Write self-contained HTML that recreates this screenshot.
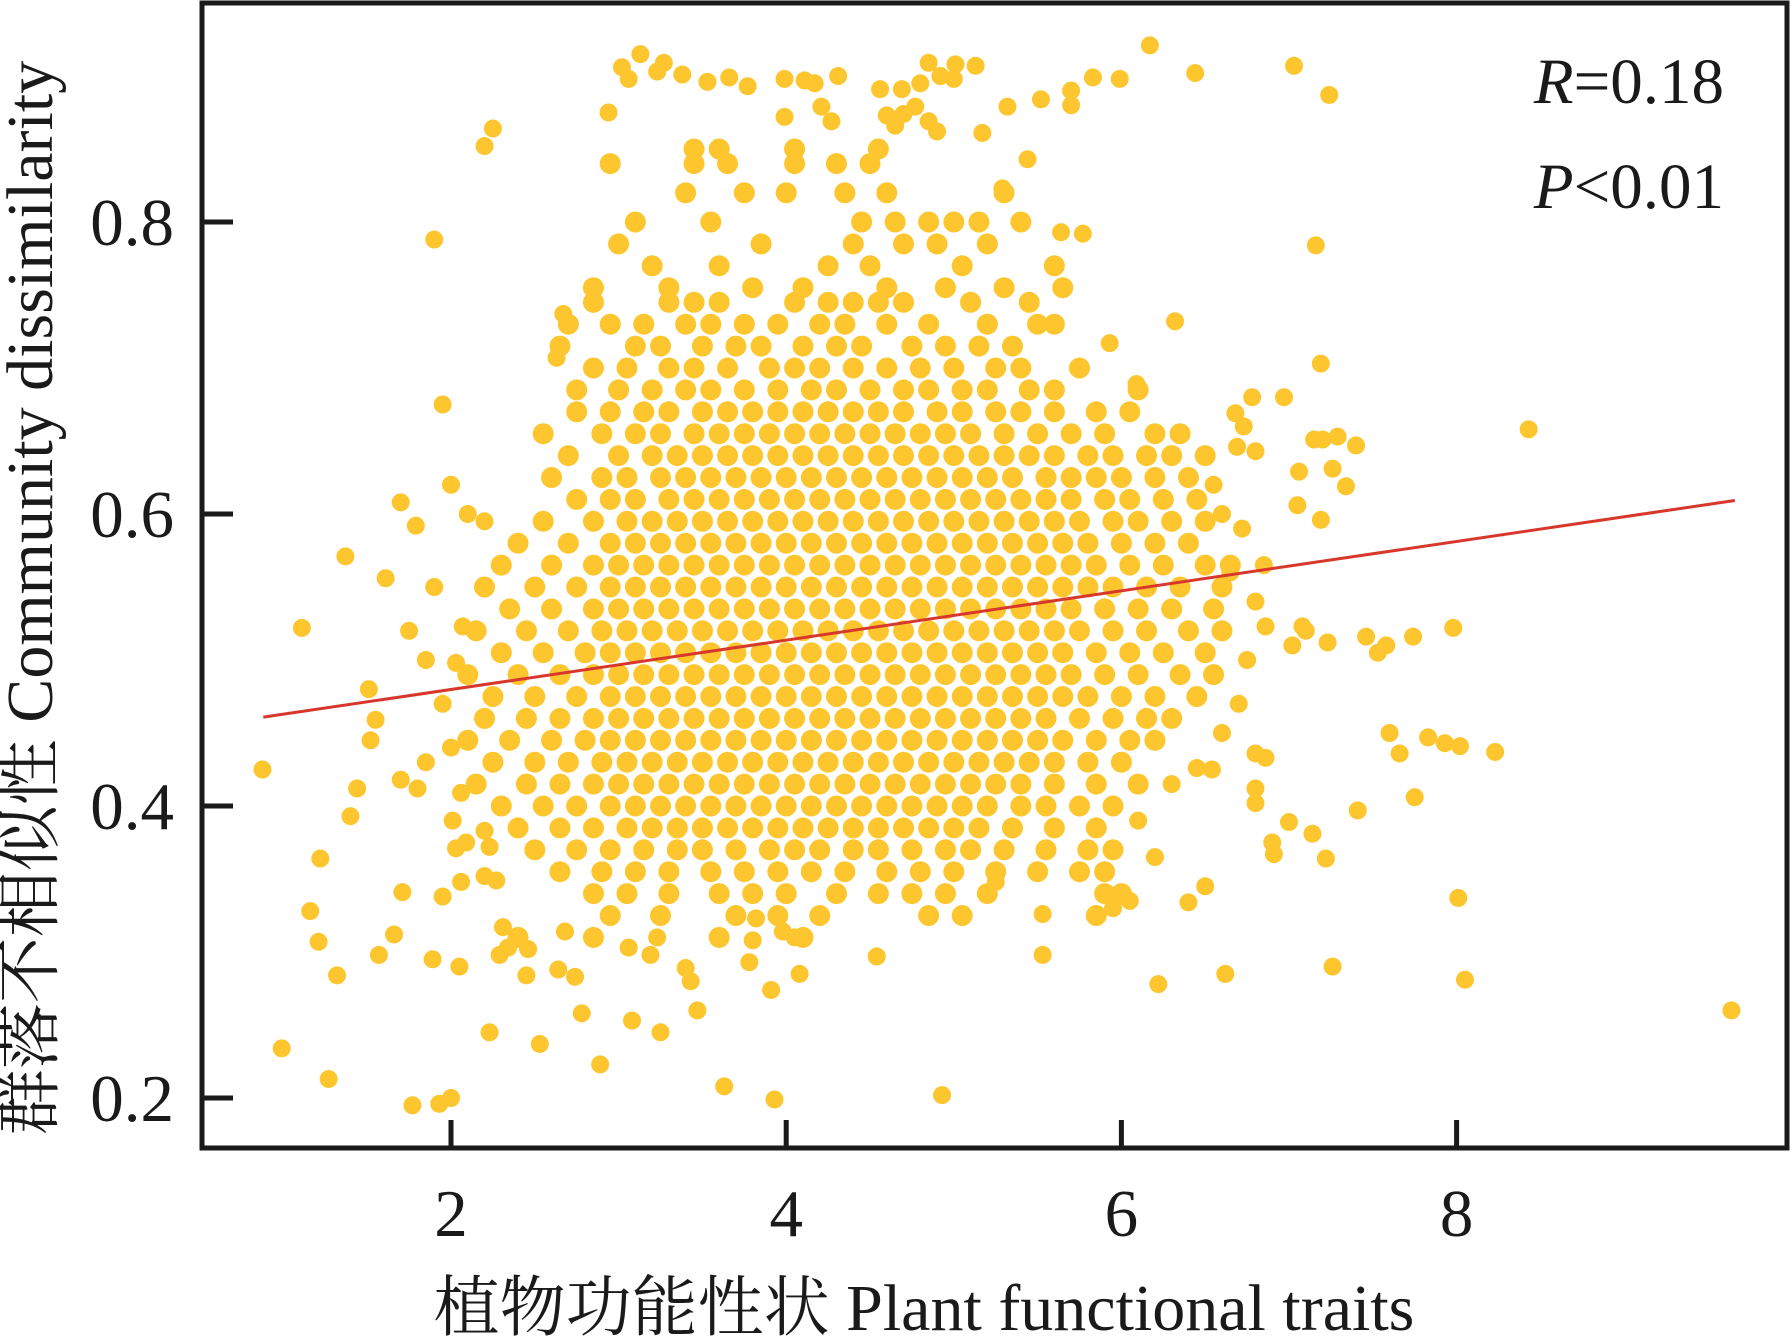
<!DOCTYPE html>
<html><head><meta charset="utf-8">
<style>
html,body{margin:0;padding:0;background:#fff;}
svg{display:block;}
text{font-family:"Liberation Serif","Noto Serif CJK SC","Noto Sans CJK SC",serif;fill:#1a1a1a;}
</style></head>
<body>
<svg id="chart" width="1792" height="1337" viewBox="0 0 1792 1337" xmlns="http://www.w3.org/2000/svg">
<g id="points"></g>
<line id="fit" stroke="#d8382c" stroke-width="3"/>
<rect x="202" y="3" width="1585" height="1145" fill="none" stroke="#1a1a1a" stroke-width="5"/>
<g id="axes"></g>
<text x="1724" y="103" font-size="65" text-anchor="end"><tspan font-style="italic">R</tspan>=0.18</text>
<text x="1724" y="208" font-size="65" text-anchor="end"><tspan font-style="italic">P</tspan>&lt;0.01</text>
<text x="924" y="1330" font-size="66" text-anchor="middle">植物功能性状 Plant functional traits</text>
<text transform="translate(52,598) rotate(-90)" font-size="66" text-anchor="middle">群落不相似性 Community dissimilarity</text>
</svg>
<script>
const xTicks=[2,4,6,8];
const yTicks=[0.2,0.4,0.6,0.8];
const yTickLabels=["0.2","0.4","0.6","0.8"];
const fitIntercept=0.446;
const fitSlope=0.0169;
const fitRange=[0.88,9.66];
const sparsePoints=[[0.875,0.425],[0.99,0.234],[1.11,0.522],[1.22,0.364],[1.27,0.213],[1.16,0.328],[1.21,0.307],[1.32,0.284],[1.37,0.571],[1.40,0.393],[1.44,0.412],[1.51,0.48],[1.52,0.445],[1.55,0.459],[1.61,0.556],[1.57,0.298],[1.66,0.312],[1.70,0.608],[1.70,0.418],[1.71,0.341],[1.77,0.195],[1.79,0.592],[1.80,0.412],[1.89,0.295],[1.90,0.788],[1.93,0.196],[1.95,0.675],[2.0,0.2],[1.95,0.338],[2.01,0.39],[2.03,0.371],[2.06,0.409],[2.07,0.523],[2.03,0.498],[2.05,0.29],[2.20,0.852],[2.25,0.864],[2.23,0.245],[2.20,0.595],[2.29,0.298],[2.53,0.237],[2.63,0.707],[2.67,0.737],[2.78,0.258],[2.89,0.223],[2.94,0.875],[3.02,0.906],[3.13,0.915],[3.06,0.898],[3.27,0.909],[3.38,0.901],[3.53,0.896],[3.66,0.899],[3.77,0.893],[3.23,0.903],[3.08,0.253],[3.25,0.245],[3.63,0.208],[3.93,0.199],[3.99,0.898],[4.11,0.897],[4.17,0.895],[4.31,0.9],[4.21,0.879],[4.27,0.869],[3.99,0.872],[4.56,0.891],[4.69,0.891],[4.80,0.895],[4.92,0.9],[5.01,0.908],[5.13,0.907],[4.85,0.909],[5.0,0.898],[4.6,0.873],[4.7,0.874],[4.77,0.879],[4.85,0.869],[4.9,0.862],[4.65,0.866],[5.32,0.879],[5.52,0.884],[5.70,0.89],[5.83,0.899],[5.99,0.898],[6.17,0.921],[6.44,0.902],[7.03,0.907],[7.24,0.887],[5.70,0.88],[5.17,0.861],[5.44,0.843],[5.29,0.823],[5.64,0.793],[5.77,0.792],[7.16,0.784],[7.19,0.703],[6.32,0.732],[5.93,0.717],[5.74,0.70],[6.09,0.689],[6.78,0.68],[6.97,0.68],[6.68,0.669],[6.73,0.66],[6.69,0.646],[6.80,0.643],[7.15,0.651],[7.20,0.651],[7.29,0.653],[7.40,0.647],[7.26,0.631],[7.34,0.619],[7.06,0.629],[7.05,0.606],[7.19,0.596],[8.43,0.658],[6.86,0.523],[7.08,0.523],[7.10,0.52],[7.23,0.512],[7.02,0.51],[7.46,0.516],[7.53,0.505],[7.58,0.51],[7.74,0.516],[7.98,0.522],[7.6,0.45],[7.66,0.436],[7.83,0.447],[7.93,0.443],[8.02,0.441],[8.23,0.437],[7.75,0.406],[7.41,0.397],[7.14,0.381],[7.22,0.364],[6.91,0.367],[6.90,0.375],[7.0,0.389],[6.80,0.436],[6.86,0.433],[6.80,0.412],[6.8,0.402],[7.26,0.29],[8.01,0.337],[8.05,0.281],[9.64,0.26],[6.62,0.285],[6.22,0.278],[6.40,0.334],[6.50,0.345],[6.45,0.426],[6.54,0.425],[5.53,0.298],[5.53,0.326],[4.54,0.297],[4.93,0.202],[5.25,0.348],[4.08,0.285],[4.05,0.31],[3.98,0.314],[3.91,0.274],[3.80,0.308],[3.78,0.293],[3.82,0.323],[3.47,0.26],[3.40,0.289],[3.43,0.28],[2.68,0.314],[2.74,0.283],[2.64,0.288],[2.46,0.302],[2.45,0.284],[2.31,0.317],[2.34,0.303],[2.20,0.352],[2.27,0.349],[2.23,0.372],[2.20,0.383],[2.09,0.375],[2.06,0.348],[3.06,0.303],[3.19,0.298],[3.23,0.31],[6.2,0.365],[6.1,0.39],[6.3,0.415],[6.05,0.335],[5.95,0.33],[6.6,0.45],[6.7,0.47],[6.75,0.5],[6.8,0.54],[6.85,0.565],[6.72,0.59],[6.6,0.6],[6.55,0.62],[6.65,0.56],[1.85,0.5],[1.95,0.47],[1.9,0.55],[2.0,0.44],[1.85,0.43],[2.1,0.6],[2.0,0.62],[1.75,0.52]];
const coreRows=[
[0.85,3.45,3.6,4.05,4.55],
[0.84,2.95,3.45,3.65,4.05,4.3,4.5],
[0.82,3.4,3.75,4.0,4.35,4.6,5.3],
[0.80,3.1,3.55,4.45,4.65,4.85,5.0,5.15,5.4],
[0.785,3.0,3.85,4.4,4.7,4.9,5.2],
[0.77,3.2,3.6,4.25,4.5,5.05,5.6],
[0.755,2.85,3.3,3.8,4.1,4.6,4.95,5.3,5.65],
[0.745,2.85,3.3,3.45,3.6,4.05,4.25,4.4,4.55,4.7,5.1,5.45],
[0.73,2.7,2.95,3.15,3.4,3.55,3.75,3.95,4.2,4.35,4.6,4.85,5.2,5.5,5.6],
[0.715,2.65,3.1,3.25,3.5,3.7,3.85,4.1,4.3,4.45,4.75,4.95,5.15,5.35],
[0.70,2.85,3.05,3.3,3.45,3.65,3.9,4.05,4.2,4.4,4.6,4.8,5.0,5.25,5.4,5.75],
[0.685,2.75,3.0,3.2,3.4,3.55,3.75,3.95,4.15,4.3,4.5,4.7,4.85,5.05,5.2,5.45,5.6,6.1],
[0.67,2.75,2.95,3.15,3.3,3.5,3.65,3.8,3.95,4.1,4.25,4.4,4.55,4.7,4.9,5.05,5.25,5.4,5.6,5.85,6.05],
[0.655,2.55,2.9,3.1,3.25,3.45,3.6,3.75,3.9,4.05,4.2,4.35,4.5,4.65,4.8,4.95,5.1,5.3,5.5,5.7,5.9,6.2,6.35],
[0.64,2.7,3.0,3.2,3.35,3.5,3.65,3.8,3.95,4.1,4.25,4.4,4.55,4.7,4.85,5.0,5.15,5.3,5.45,5.6,5.8,5.95,6.15,6.3,6.5],
[0.625,2.6,2.9,3.05,3.25,3.4,3.55,3.7,3.85,4.0,4.15,4.3,4.45,4.6,4.75,4.9,5.05,5.2,5.35,5.55,5.7,5.85,6.0,6.2,6.4],
[0.61,2.75,2.95,3.1,3.3,3.45,3.6,3.75,3.9,4.05,4.2,4.35,4.5,4.65,4.8,4.95,5.1,5.25,5.4,5.55,5.7,5.9,6.05,6.25,6.45],
[0.595,2.55,2.85,3.05,3.2,3.35,3.5,3.65,3.8,3.95,4.1,4.25,4.4,4.55,4.7,4.85,5.0,5.15,5.3,5.45,5.6,5.75,5.95,6.1,6.3,6.5],
[0.58,2.4,2.7,2.95,3.1,3.25,3.4,3.55,3.7,3.85,4.0,4.15,4.3,4.45,4.6,4.75,4.9,5.05,5.2,5.35,5.5,5.65,5.8,6.0,6.2,6.4],
[0.565,2.3,2.6,2.85,3.0,3.15,3.3,3.45,3.6,3.75,3.9,4.05,4.2,4.35,4.5,4.65,4.8,4.95,5.1,5.25,5.4,5.55,5.7,5.85,6.05,6.25,6.5,6.65],
[0.55,2.2,2.5,2.75,2.95,3.1,3.25,3.4,3.55,3.7,3.85,4.0,4.15,4.3,4.45,4.6,4.75,4.9,5.05,5.2,5.35,5.5,5.65,5.8,5.95,6.15,6.35,6.6],
[0.535,2.35,2.6,2.85,3.0,3.15,3.3,3.45,3.6,3.75,3.9,4.05,4.2,4.35,4.5,4.65,4.8,4.95,5.1,5.25,5.4,5.55,5.7,5.9,6.1,6.3,6.55],
[0.52,2.15,2.45,2.7,2.9,3.05,3.2,3.35,3.5,3.65,3.8,3.95,4.1,4.25,4.4,4.55,4.7,4.85,5.0,5.15,5.3,5.45,5.6,5.75,5.95,6.15,6.4,6.6],
[0.505,2.3,2.55,2.8,2.95,3.1,3.25,3.4,3.55,3.7,3.85,4.0,4.15,4.3,4.45,4.6,4.75,4.9,5.05,5.2,5.35,5.5,5.65,5.85,6.05,6.25,6.5],
[0.49,2.1,2.4,2.65,2.85,3.0,3.15,3.3,3.45,3.6,3.75,3.9,4.05,4.2,4.35,4.5,4.65,4.8,4.95,5.1,5.25,5.4,5.55,5.7,5.9,6.1,6.35,6.55],
[0.475,2.25,2.5,2.75,2.95,3.1,3.25,3.4,3.55,3.7,3.85,4.0,4.15,4.3,4.45,4.6,4.75,4.9,5.05,5.2,5.35,5.5,5.65,5.8,6.0,6.2,6.45],
[0.46,2.2,2.45,2.65,2.85,3.0,3.15,3.3,3.45,3.6,3.75,3.9,4.05,4.2,4.35,4.5,4.65,4.8,4.95,5.1,5.25,5.4,5.55,5.75,5.95,6.15,6.3],
[0.445,2.1,2.35,2.6,2.8,2.95,3.1,3.25,3.4,3.55,3.7,3.85,4.0,4.15,4.3,4.45,4.6,4.75,4.9,5.05,5.2,5.35,5.5,5.65,5.85,6.05,6.2],
[0.43,2.25,2.5,2.7,2.9,3.05,3.2,3.35,3.5,3.65,3.8,3.95,4.1,4.25,4.4,4.55,4.7,4.85,5.0,5.15,5.3,5.45,5.6,5.8,6.0],
[0.415,2.15,2.45,2.65,2.85,3.0,3.15,3.3,3.45,3.6,3.75,3.9,4.05,4.2,4.35,4.5,4.65,4.8,4.95,5.1,5.25,5.4,5.6,5.85,6.1],
[0.40,2.3,2.55,2.75,2.95,3.1,3.25,3.4,3.55,3.7,3.85,4.0,4.15,4.3,4.45,4.6,4.75,4.9,5.05,5.2,5.4,5.55,5.75,5.95],
[0.385,2.4,2.65,2.85,3.05,3.2,3.35,3.5,3.65,3.8,3.95,4.1,4.25,4.4,4.55,4.7,4.85,5.0,5.15,5.35,5.6,5.85],
[0.37,2.5,2.75,2.95,3.15,3.35,3.5,3.7,3.9,4.05,4.2,4.4,4.55,4.75,4.95,5.1,5.3,5.55,5.8,5.95],
[0.355,2.65,2.9,3.1,3.3,3.55,3.75,3.95,4.15,4.35,4.6,4.8,5.0,5.25,5.5,5.75,5.9],
[0.34,2.85,3.05,3.3,3.6,3.8,4.0,4.3,4.55,4.75,4.95,5.2,5.9,6.0],
[0.325,2.95,3.25,3.7,3.95,4.2,4.85,5.05,5.85],
[0.31,2.4,2.85,3.6,4.1]
];
const X=v=>451+(v-2)*167.6;
const Y=v=>1098-(v-0.2)*1460;
const NS="http://www.w3.org/2000/svg";
const g=document.getElementById('points');
function dot(x,y,r){
  const c=document.createElementNS(NS,'circle');
  c.setAttribute('cx',X(x));c.setAttribute('cy',Y(y));c.setAttribute('r',r);
  c.setAttribute('fill','#fdc62e');
  
  
  g.appendChild(c);
}
coreRows.forEach(r=>{for(let i=1;i<r.length;i++)dot(r[i],r[0],10.5);});
sparsePoints.forEach(p=>dot(p[0],p[1],9));
const fit=document.getElementById('fit');
fit.setAttribute('x1',X(fitRange[0]));fit.setAttribute('y1',Y(fitIntercept+fitSlope*fitRange[0]));
fit.setAttribute('x2',X(fitRange[1]));fit.setAttribute('y2',Y(fitIntercept+fitSlope*fitRange[1]));
const ax=document.getElementById('axes');
xTicks.forEach(t=>{
  const l=document.createElementNS(NS,'line');
  l.setAttribute('x1',X(t));l.setAttribute('x2',X(t));l.setAttribute('y1',1148);l.setAttribute('y2',1120);
  l.setAttribute('stroke','#1a1a1a');l.setAttribute('stroke-width',5);
  
  
  ax.appendChild(l);
  const tx=document.createElementNS(NS,'text');
  tx.setAttribute('x',X(t));tx.setAttribute('y',1236);tx.setAttribute('font-size',67);tx.setAttribute('text-anchor','middle');
  tx.textContent=String(t);
  
  
  ax.appendChild(tx);
});
yTicks.forEach((t,i)=>{
  const l=document.createElementNS(NS,'line');
  l.setAttribute('x1',202);l.setAttribute('x2',233);l.setAttribute('y1',Y(t));l.setAttribute('y2',Y(t));
  l.setAttribute('stroke','#1a1a1a');l.setAttribute('stroke-width',5);
  
  
  ax.appendChild(l);
  const tx=document.createElementNS(NS,'text');
  tx.setAttribute('x',174);tx.setAttribute('y',Y(t)+23);tx.setAttribute('font-size',67);tx.setAttribute('text-anchor','end');
  tx.textContent=yTickLabels[i];
  
  
  ax.appendChild(tx);
});
</script>
</body></html>
